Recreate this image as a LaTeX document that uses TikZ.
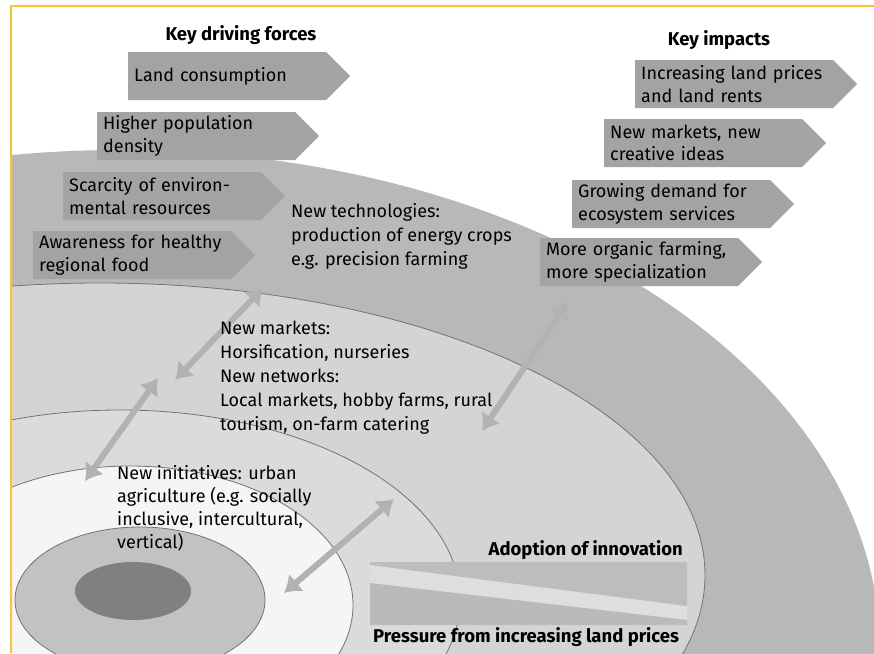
\documentclass[tikz,border=0pt]{standalone}
\usepackage{fontspec}
\setmainfont{Fira Sans}
\usetikzlibrary{shapes.symbols,arrows.meta}
\definecolor{frameyellow}{RGB}{252,196,38}
\begin{document}
\begin{tikzpicture}[x=1pt, y=-1pt,
	force/.style={shape=signal, signal to=east, signal pointer angle=90, fill=black!36,
		minimum height=48pt, text width=186pt, inner xsep=6pt, inner ysep=0pt,
		align=left, anchor=west, font=\fontsize{18}{22.5}\selectfont},
	ringtext/.style={anchor=north west, align=left, inner sep=0pt, font=\fontsize{18}{24}\selectfont},
	heading/.style={font=\fontsize{18.5}{22}\selectfont\bfseries},
	ringline/.style={draw=black!55, line width=0.8pt},
	twoway/.style={{Latex[length=16pt,width=23pt]}-{Latex[length=16pt,width=23pt]}, line width=6pt, draw=black!30}]
\useasboundingbox (0,0) rectangle (874,653);
\begin{scope}
	\clip (11,6) rectangle (874,653);
	\fill[black!28] (120,650) ellipse [x radius=760pt, y radius=500pt];
	\filldraw[ringline, fill=black!17] (100,575) ellipse [x radius=605pt, y radius=292pt];
	\filldraw[ringline, fill=black!14] (120,600) ellipse [x radius=340pt, y radius=190pt];
	\filldraw[ringline, fill=black!4] (130,605) ellipse [x radius=223pt, y radius=139pt];
	\filldraw[ringline, fill=black!24] (140,600) ellipse [x radius=125pt, y radius=73pt];
	\fill[black!50] (133,591) ellipse [x radius=58pt, y radius=29pt];
\end{scope}
\draw[frameyellow, line width=2pt] (11,653) -- (11,6) -- (874,6);

% bar at the bottom
\fill[black!13] (370,562) rectangle (687,625);
\fill[black!26] (370,562) -- (687,562) -- (687,606) -- (370,565) -- cycle;
\fill[black!27] (370,583) -- (687,620) -- (687,625) -- (370,625) -- cycle;

% arrows between the rings
\coordinate (a1) at (263,288);
\coordinate (b1) at (175,380);
\coordinate (a2) at (158,378);
\coordinate (b2) at (85,481);
\coordinate (a3) at (394,499);
\coordinate (b3) at (284,593);
\coordinate (a4) at (568,302);
\coordinate (b4) at (482,431);
\draw[twoway] (a1) -- (b1);
\draw[twoway] (a2) -- (b2);
\draw[twoway] (a3) -- (b3);
\draw[twoway] (a4) -- (b4);

\node[heading] (drivers) at (241,35) {Key driving forces};
\node[heading] (impacts) at (719,40) {Key impacts};

\node[force] (land) at (128,76) {Land consumption};
\node[force] (density) at (97,136) {Higher population\\density};
\node[force] (scarcity) at (63,196) {Scarcity of environ-\\mental resources};
\node[force] (food) at (33,255) {Awareness for healthy\\regional food};

\node[force] (prices) at (635,84) {Increasing land prices\\and land rents};
\node[force] (ideas) at (604,143) {New markets, new\\creative ideas};
\node[force] (demand) at (572,204) {Growing demand for\\ecosystem services};
\node[force] (organic) at (540,262) {More organic farming,\\more specialization};

\node[ringtext] (tech) at (291,203) {New technologies:\\production of energy crops\\e.g. precision farming};
\node[ringtext] (markets) at (220,321) {New markets:\\Horsification, nurseries\\New networks:\\Local markets, hobby farms, rural\\tourism, on-farm catering};
\node[ringtext, font=\fontsize{18}{23}\selectfont] (urban) at (117,465) {New initiatives: urban\\agriculture (e.g. socially\\inclusive, intercultural,\\vertical)};

\node[heading, anchor=south east, inner sep=2pt] (adoption) at (685,562) {Adoption of innovation};
\node[heading, anchor=north west, inner sep=2pt] (pressure) at (371,625) {Pressure from increasing land prices};
\end{tikzpicture}
\end{document}
